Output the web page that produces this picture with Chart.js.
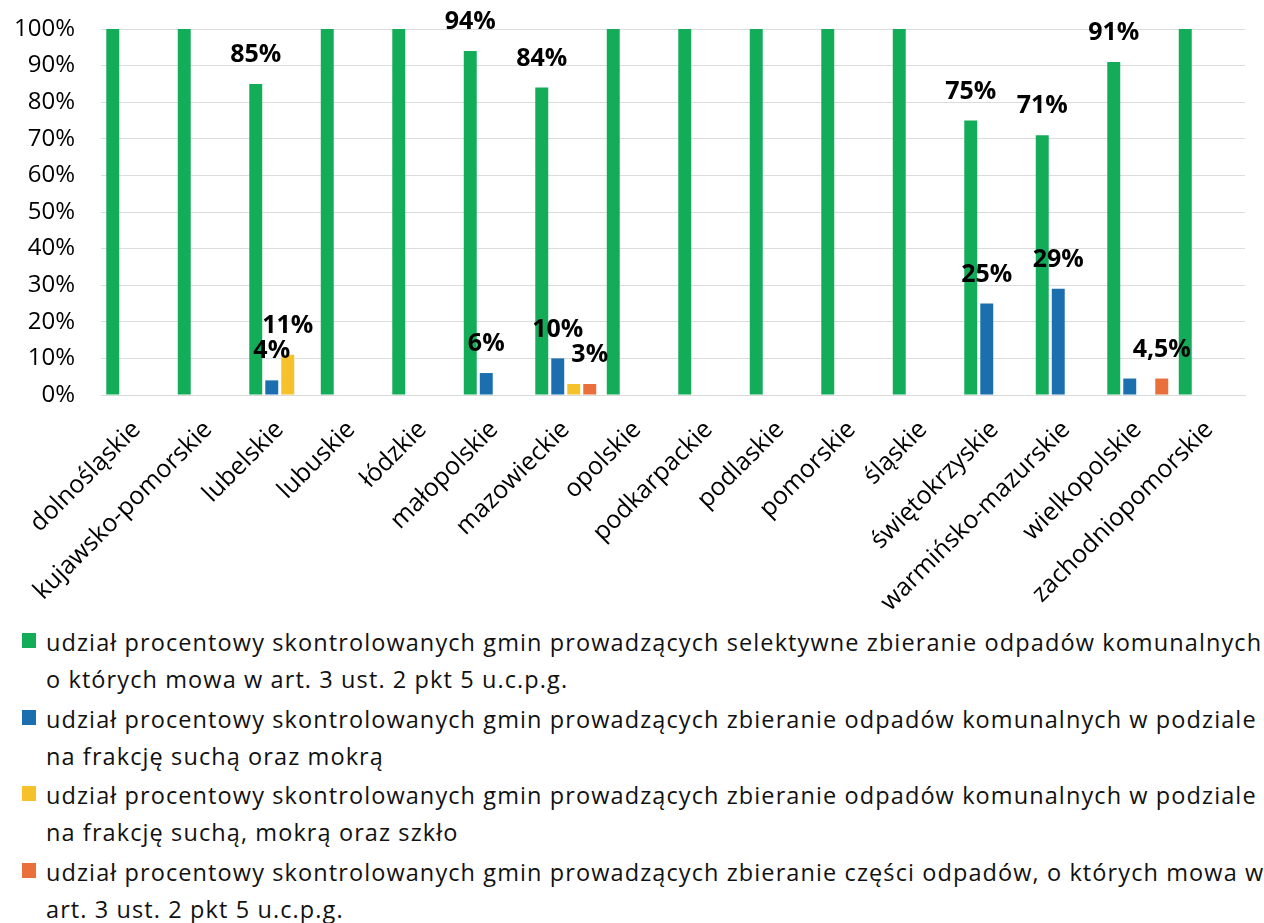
<!DOCTYPE html>
<html>
<head>
<meta charset="utf-8">
<script src="https://cdn.jsdelivr.net/npm/chart.js@4/dist/chart.umd.min.js"></script>
<style>
  body { margin: 0; background: #fff; font-family: "Open Sans", sans-serif; color: #111; }
  #wrap { position: relative; width: 1264px; height: 620px; }
  #legend { position: relative; margin-top: 4px; }
  .item { position: relative; padding-left: 46px; font-size: 23.5px; letter-spacing: 1.1px; line-height: 37px; margin-bottom: 2.5px; white-space: nowrap; }
  .item .box { position: absolute; left: 22px; top: 9px; width: 14px; height: 15px; }
</style>
</head>
<body>
<div id="wrap"><canvas id="myChart"></canvas></div>
<div id="legend"></div>
<script>
  // województwa
  const categories = ['dolnośląskie', 'kujawsko-pomorskie', 'lubelskie', 'lubuskie', 'łódzkie',
    'małopolskie', 'mazowieckie', 'opolskie', 'podkarpackie', 'podlaskie', 'pomorskie',
    'śląskie', 'świętokrzyskie', 'warmińsko-mazurskie', 'wielkopolskie', 'zachodniopomorskie'];

  // values in %
  const selektywne = [100, 100, 85, 100, 100, 94, 84, 100, 100, 100, 100, 100, 75, 71, 91, 100];
  const suchaMokra = [null, null, 4, null, null, 6, 10, null, null, null, null, null, 25, 29, 4.5, null];
  const suchaMokraSzklo = [null, null, 11, null, null, null, 3, null, null, null, null, null, null, null, null, null];
  const czesc = [null, null, null, null, null, null, 3, null, null, null, null, null, null, null, 4.5, null];

  // value labels shown on the chart
  const selektywneLabels = [null, null, '85%', null, null, '94%', '84%', null, null, null, null, null, '75%', '71%', '91%', null];
  const suchaMokraLabels = [null, null, '4%', null, null, '6%', '10%', null, null, null, null, null, '25%', '29%', null, null];
  const suchaMokraSzkloLabels = [null, null, '11%', null, null, null, null, null, null, null, null, null, null, null, null, null];
  const czescLabels = [null, null, null, null, null, null, '3%', null, null, null, null, null, null, null, '4,5%', null];

  const yTicks = [0, 10, 20, 30, 40, 50, 60, 70, 80, 90, 100];

  const legendTexts = [
    ['udział procentowy skontrolowanych gmin prowadzących selektywne zbieranie odpadów komunalnych', 'o których mowa w art. 3 ust. 2 pkt 5 u.c.p.g.'],
    ['udział procentowy skontrolowanych gmin prowadzących zbieranie odpadów komunalnych w podziale', 'na frakcję suchą oraz mokrą'],
    ['udział procentowy skontrolowanych gmin prowadzących zbieranie odpadów komunalnych w podziale', 'na frakcję suchą, mokrą oraz szkło'],
    ['udział procentowy skontrolowanych gmin prowadzących zbieranie części odpadów, o których mowa w', 'art. 3 ust. 2 pkt 5 u.c.p.g.']
  ];

  const colors = ['#13ad5a', '#1b6fae', '#f5c22c', '#e96f3b'];
  const seriesValues = [selektywne, suchaMokra, suchaMokraSzklo, czesc];
  const seriesLabels = [selektywneLabels, suchaMokraLabels, suchaMokraSzkloLabels, czescLabels];

  Chart.defaults.font.family = '"Open Sans", sans-serif';
  Chart.defaults.color = '#000';

  // draws the % labels above the bars
  const valueLabels = {
    id: 'valueLabels',
    afterDatasetsDraw(chart) {
      const ctx = chart.ctx;
      ctx.save();
      ctx.font = 'bold 25px "Open Sans", sans-serif';
      ctx.fillStyle = '#000';
      ctx.textAlign = 'center';
      ctx.textBaseline = 'middle';
      chart.data.datasets.forEach((ds, d) => {
        const meta = chart.getDatasetMeta(d);
        ds.valueLabels.forEach((txt, i) => {
          if (!txt) return;
          const bar = meta.data[i];
          ctx.fillText(txt, bar.x, bar.y - 29);
        });
      });
      ctx.restore();
    }
  };

  const ctx = document.getElementById('myChart').getContext('2d');
  const chart = new Chart(ctx, {
    type: 'bar',
    data: {
      labels: categories,
      datasets: seriesValues.map((vals, i) => ({
        label: legendTexts[i].join(' '),
        data: vals,
        valueLabels: seriesLabels[i],
        backgroundColor: colors[i],
        categoryPercentage: 0.895,
        barPercentage: 0.81
      }))
    },
    options: {
      responsive: true,
      maintainAspectRatio: false,
      animation: false,
      layout: { padding: { top: 0, right: 19 } },
      plugins: {
        legend: { display: false },
        tooltip: { enabled: false }
      },
      scales: {
        x: {
          grid: { display: false },
          border: { color: '#d9d9d9' },
          ticks: {
            autoSkip: false,
            minRotation: 45,
            maxRotation: 45,
            padding: 12,
            font: { size: 25 }
          },
          afterFit(scale) { scale.height = 225; }
        },
        y: {
          min: 0,
          max: 100,
          afterBuildTicks(scale) { scale.ticks = yTicks.map(v => ({ value: v })); },
          grid: { color: '#dcdcdc', drawTicks: false },
          border: { display: false },
          ticks: {
            padding: 26,
            font: { size: 24 },
            callback: v => v + '%'
          },
          afterFit(scale) {
            scale.width = 101;
            scale.paddingTop = 29;
            scale.paddingBottom = 14;
          }
        }
      }
    },
    plugins: [valueLabels]
  });

  // legend built from the datasets
  const legend = document.getElementById('legend');
  chart.data.datasets.forEach((ds, i) => {
    const div = document.createElement('div');
    div.className = 'item';
    const box = document.createElement('span');
    box.className = 'box';
    box.style.background = ds.backgroundColor;
    div.appendChild(box);
    legendTexts[i].forEach((line, j) => {
      if (j > 0) div.appendChild(document.createElement('br'));
      div.appendChild(document.createTextNode(line));
    });
    legend.appendChild(div);
  });
</script>
</body>
</html>
